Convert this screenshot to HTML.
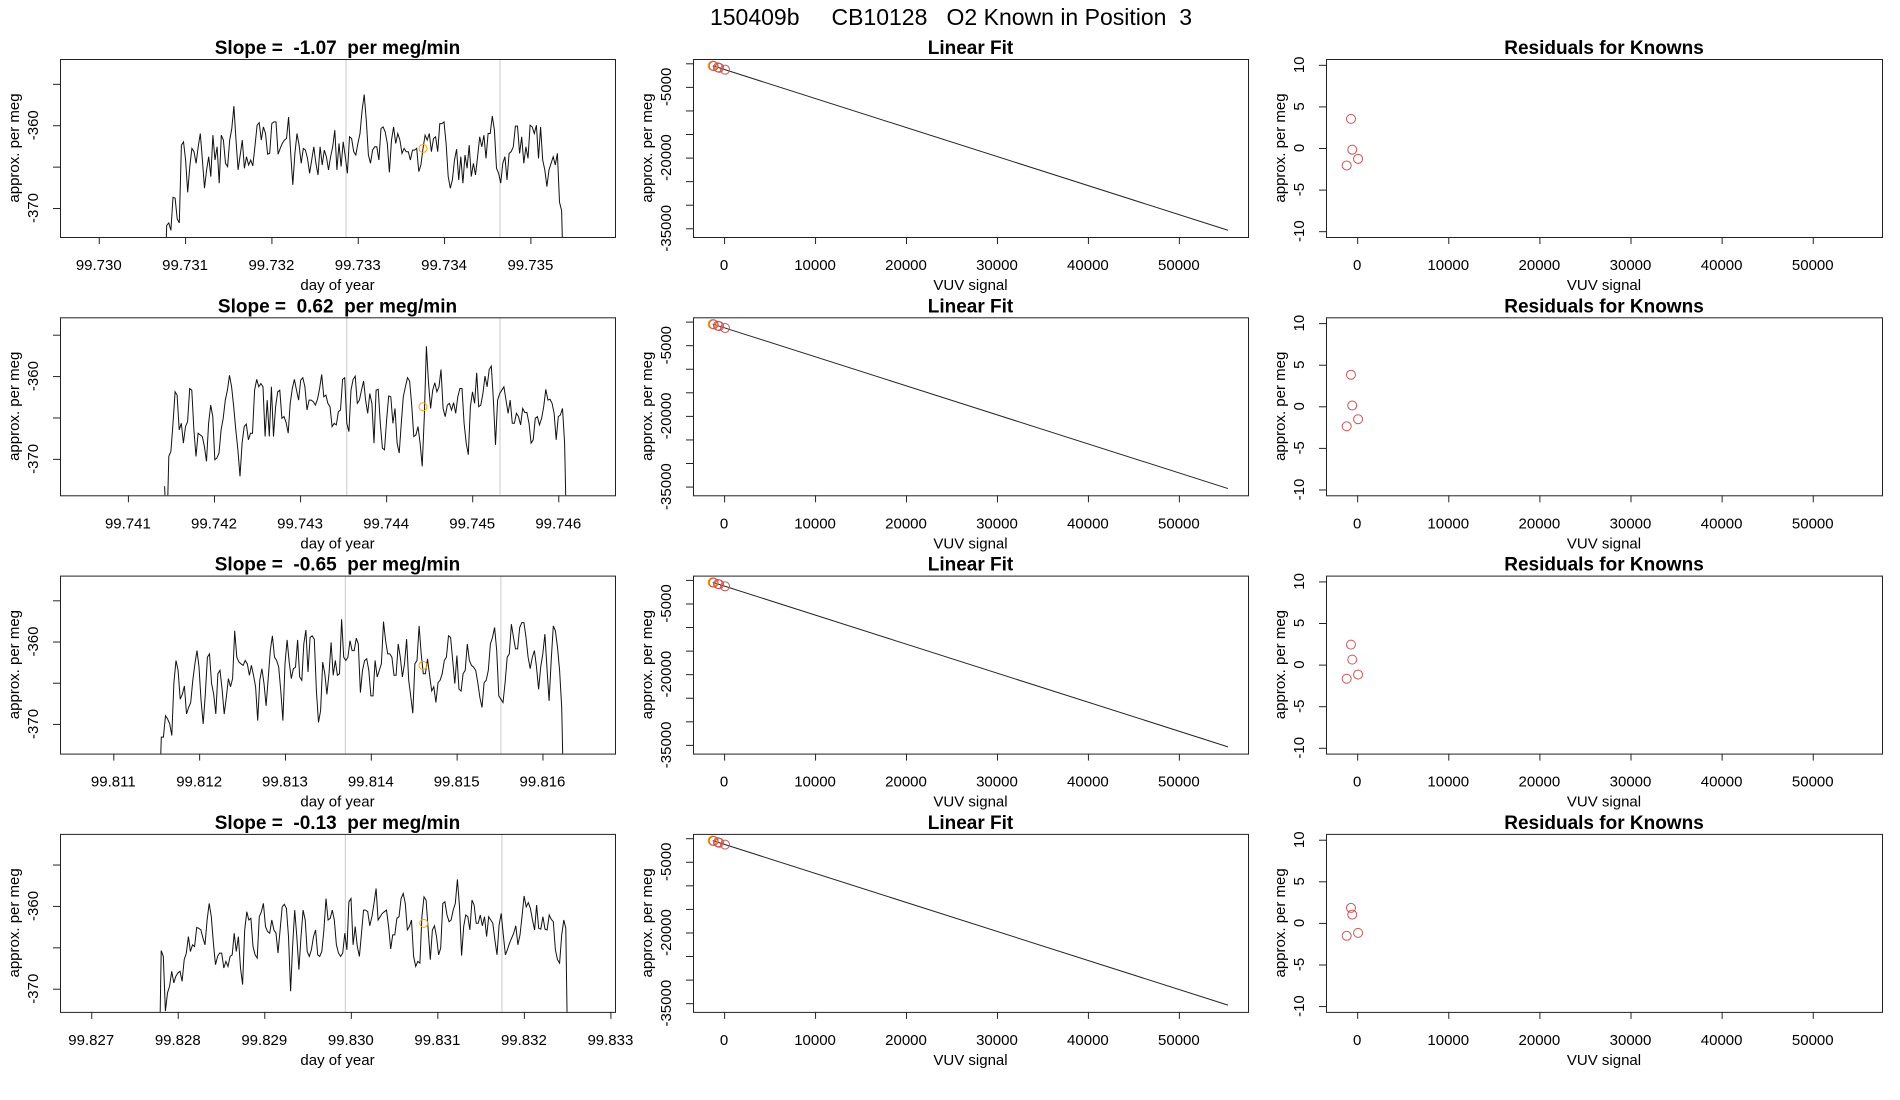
<!DOCTYPE html>
<html><head><meta charset="utf-8"><title>150409b CB10128 O2 Known in Position 3</title>
<style>
html,body{margin:0;padding:0;background:#fff;}
svg{display:block;font-family:"Liberation Sans",Arial,sans-serif;}
</style></head>
<body>
<svg id="chart" width="1900" height="1100" viewBox="0 0 1900 1100" xmlns="http://www.w3.org/2000/svg">
<rect x="0" y="0" width="1900" height="1100" fill="#fff"/>
<text x="951" y="25" font-size="23" text-anchor="middle" style="white-space:pre" xml:space="preserve">150409b     CB10128   O2 Known in Position  3</text>
</svg>
<script>
// ---- data ----
const slopeLabels = ["-1.07", "0.62", "-0.65", "-0.13"];
const seriesStart = [99.730763, 99.741426, 99.811535, 99.827785];
const seriesEnd = [99.735386, 99.746098, 99.816248, 99.832509];
const xDomainMin = [99.729551, 99.740211, 99.810379, 99.826639];
const xDomainMax = [99.735980, 99.746659, 99.816845, 99.833053];
const yDomainMin = [-373.5, -374.4, -373.6, -372.8];
const yDomainMax = [-352.0, -352.9, -352.0, -351.3];
const xTickStart = [99.730, 99.741, 99.811, 99.827];
const xTickCount = [6, 6, 6, 7];
const yTicksTS = [-355, -360, -365, -370];
const yTickLabelsTS = ["", "-360", "", "-370"];
const greyLineA = [99.732864, 99.743542, 99.813704, 99.829937];
const greyLineB = [99.734648, 99.745323, 99.815515, 99.831746];
const orangeT = [99.733756, 99.744428, 99.814608, 99.830843];
const orangeV = [-362.8, -363.7, -362.9, -362.1];

const row1Values = [-380,-372.1,-371.8,-372.7,-368.7,-368.8,-371.3,-371.8,-362.4,-362.0,-364.2,-368.1,-365.0,-362.8,-363.2,-364.6,-362.6,-361.0,-364.2,-367.6,-365.4,-363.8,-366.2,-361.2,-364.2,-362.6,-367.0,-361.2,-361.8,-364.6,-365.0,-361.8,-360.4,-357.7,-361.8,-365.4,-363.6,-361.8,-365.2,-363.8,-364.8,-364.2,-364.9,-362.6,-360.0,-359.7,-361.8,-360.2,-361.0,-363.5,-363.4,-359.8,-359.6,-359.6,-363.5,-362.8,-362.2,-361.8,-361.6,-359.0,-363.4,-367.2,-363.4,-361.0,-362.4,-364.6,-362.8,-363.0,-364.0,-365.8,-364.2,-362.6,-364.6,-366.0,-362.6,-364.8,-363.0,-363.8,-365.4,-363.8,-362.6,-360.6,-365.4,-362.2,-365.0,-362.0,-363.8,-365.8,-361.4,-361.6,-363.2,-363.6,-362.2,-361.0,-358.2,-356.3,-359.4,-363.6,-364.6,-363.0,-362.6,-362.6,-364.2,-360.4,-360.2,-360.8,-362.2,-365.7,-361.8,-360.2,-362.2,-361.0,-361.8,-363.4,-362.8,-363.2,-363.2,-364.2,-363.0,-363.0,-362.8,-365.6,-364.8,-362.8,-361.2,-361.8,-361.0,-363.2,-361.6,-361.4,-363.2,-359.8,-359.8,-359.6,-362.2,-366.2,-367.6,-366.6,-364.2,-362.9,-366.6,-363.8,-367.0,-363.6,-365.2,-362.4,-366.2,-364.6,-366.0,-363.8,-361.4,-362.6,-361.2,-364.0,-361.0,-361.0,-358.9,-360.6,-365.2,-365.8,-367.0,-364.6,-363.8,-366.6,-363.4,-363.2,-362.6,-360.1,-360.1,-363.4,-361.4,-364.6,-362.6,-364.0,-360.0,-360.2,-361.0,-360.0,-364.0,-360.2,-364.2,-365.4,-367.4,-365.4,-364.6,-363.8,-364.8,-363.4,-369.3,-370.3,-380];
const row2Values = [-373.3,-380,-369.7,-369.1,-365.7,-361.9,-362.3,-366.5,-365.7,-368.1,-366.1,-365.5,-361.5,-361.7,-366.5,-369.7,-366.9,-367.1,-367.3,-368.5,-370.3,-365.7,-363.5,-364.9,-370.1,-369.9,-369.3,-366.5,-365.1,-362.9,-361.7,-359.9,-361.3,-363.7,-366.5,-368.9,-372.1,-368.1,-366.1,-365.8,-367.7,-366.9,-366.9,-361.7,-360.4,-361.3,-360.9,-361.3,-367.3,-362.9,-367.3,-361.3,-367.3,-363.7,-361.9,-361.7,-365.1,-364.9,-365.6,-366.9,-363.3,-361.5,-360.4,-361.7,-362.9,-360.5,-360.2,-361.3,-364.1,-362.9,-362.9,-363.1,-363.5,-362.8,-361.5,-359.8,-362.5,-362.3,-363.3,-363.7,-366.1,-365.7,-365.9,-364.3,-364.1,-360.4,-360.2,-365.7,-366.7,-361.7,-360.4,-360.0,-363.3,-362.9,-361.7,-360.6,-362.9,-364.5,-362.1,-363.3,-368.1,-361.7,-361.6,-365.7,-368.7,-368.9,-365.3,-362.4,-362.5,-365.7,-363.9,-368.1,-369.3,-365.7,-362.5,-361.3,-360.2,-360.6,-363.5,-367.3,-367.1,-366.1,-368.1,-370.9,-364.9,-356.4,-360.8,-363.9,-361.7,-360.8,-361.9,-361.3,-359.2,-363.9,-364.9,-363.5,-363.3,-364.1,-363.2,-364.5,-362.5,-361.5,-361.5,-365.7,-368.1,-369.5,-363.7,-361.9,-363.3,-359.6,-363.7,-363.5,-362.1,-360.0,-361.3,-359.2,-358.8,-362.9,-368.3,-362.9,-362.1,-361.7,-361.3,-362.9,-364.5,-362.9,-365.7,-365.7,-364.5,-364.9,-365.9,-363.9,-364.4,-364.4,-365.7,-368.1,-367.7,-365.1,-364.9,-365.9,-365.1,-363.7,-361.6,-362.9,-362.8,-363.3,-364.5,-367.7,-364.9,-364.7,-363.9,-368.1,-380];
const row3Values = [-380,-371.6,-371.6,-369.0,-369.4,-370.0,-371.4,-365.0,-362.3,-363.5,-367.0,-366.4,-365.4,-368.8,-368.0,-367.4,-364.7,-362.7,-361.1,-363.1,-367.2,-370.0,-366.4,-361.9,-361.5,-365.1,-366.4,-368.8,-363.9,-363.5,-365.8,-368.8,-366.8,-364.5,-365.5,-364.5,-358.7,-361.9,-362.5,-362.7,-362.9,-362.3,-362.7,-364.1,-362.9,-364.1,-365.5,-369.6,-364.7,-363.3,-365.1,-367.8,-364.5,-361.1,-359.3,-361.9,-362.3,-363.1,-366.0,-369.6,-362.7,-359.8,-362.5,-364.5,-363.3,-363.1,-359.8,-364.3,-364.7,-360.3,-358.6,-363.7,-359.5,-359.3,-359.7,-366.0,-369.8,-368.4,-362.5,-363.9,-366.4,-363.9,-360.1,-364.1,-362.3,-364.1,-363.9,-357.3,-361.9,-362.3,-361.9,-359.9,-361.1,-361.1,-359.6,-360.3,-366.2,-363.5,-362.3,-362.1,-363.5,-366.6,-366.6,-362.3,-364.3,-363.5,-362.7,-357.6,-359.9,-361.5,-361.5,-361.9,-364.1,-364.1,-360.3,-361.9,-364.3,-362.7,-359.7,-364.7,-366.6,-368.7,-362.7,-362.3,-358.1,-361.5,-363.9,-363.9,-362.1,-364.1,-366.0,-365.5,-367.4,-365.0,-364.7,-363.9,-362.3,-361.9,-359.3,-359.5,-362.3,-365.1,-361.7,-365.8,-366.0,-363.9,-363.5,-360.3,-362.3,-362.9,-363.1,-363.5,-365.0,-366.8,-368.0,-365.0,-364.7,-363.5,-360.3,-359.5,-358.3,-361.1,-366.6,-367.0,-367.4,-365.0,-361.9,-361.5,-357.9,-359.5,-360.9,-360.9,-358.3,-357.7,-357.7,-359.5,-361.9,-363.3,-361.9,-361.1,-363.1,-365.8,-363.1,-361.5,-359.1,-363.3,-367.2,-362.3,-358.1,-358.7,-360.7,-363.5,-368.0,-380];
const row4Values = [-380,-365.4,-366.1,-372.7,-370.5,-369.7,-367.9,-369.3,-368.5,-368.1,-367.9,-369.1,-366.5,-365.7,-363.7,-365.5,-364.7,-364.9,-362.6,-362.7,-362.9,-363.9,-364.7,-361.7,-359.7,-361.3,-364.5,-367.1,-366.1,-365.7,-365.7,-367.5,-366.7,-367.3,-366.1,-365.9,-363.3,-365.5,-363.7,-367.5,-369.5,-362.9,-360.7,-361.7,-361.5,-364.9,-365.9,-366.3,-361.3,-360.7,-359.7,-362.5,-363.1,-363.3,-361.7,-362.9,-363.3,-365.7,-362.9,-360.1,-359.8,-360.3,-363.7,-370.3,-364.9,-360.5,-363.7,-367.7,-363.7,-360.5,-361.7,-365.5,-366.1,-365.3,-363.7,-362.9,-365.9,-366.1,-365.5,-362.9,-359.1,-361.7,-361.5,-360.5,-361.7,-364.7,-365.7,-366.1,-365.7,-363.3,-365.3,-359.5,-359.1,-364.7,-362.5,-364.9,-366.1,-363.3,-360.5,-360.5,-360.7,-362.4,-361.3,-359.7,-357.9,-361.7,-361.3,-360.9,-360.7,-360.5,-362.5,-365.2,-363.5,-363.5,-361.5,-361.3,-359.1,-358.5,-359.7,-362.9,-362.5,-361.7,-366.1,-367.3,-366.7,-366.9,-361.3,-358.9,-359.3,-362.9,-366.5,-362.9,-362.4,-363.7,-365.9,-365.1,-359.7,-359.5,-361.1,-361.9,-361.7,-360.5,-359.7,-356.8,-360.1,-366.0,-362.5,-361.1,-361.3,-362.9,-359.3,-359.9,-362.1,-362.1,-361.1,-362.4,-361.3,-363.7,-361.3,-361.7,-362.1,-364.1,-365.9,-362.3,-360.9,-363.5,-365.9,-365.3,-364.5,-363.9,-363.3,-362.4,-364.7,-363.5,-361.3,-358.8,-360.1,-359.6,-360.3,-361.7,-362.9,-359.9,-362.7,-362.8,-361.3,-362.8,-362.9,-361.1,-361.6,-361.9,-365.3,-366.5,-366.9,-363.5,-361.7,-362.7,-380];
const seriesValues = [row1Values, row2Values, row3Values, row4Values];

// linear fit / residuals
const vuvTicks = [0, 10000, 20000, 30000, 40000, 50000];
const fitYTicks = [0, -5000, -10000, -15000, -20000, -25000, -30000, -35000];
const fitYTickLabels = ["", "-5000", "", "", "-20000", "", "", "-35000"];
const residTicks = [10, 5, 0, -5, -10];
const knownX = [-1150, -680, -540, 100];
const unknownX = [-1250];
const fitIntercept = -1290;
const fitSlope = -0.616;
const fitLineX = [-1250, 55400];
const residRow1 = [-2.1, 3.5, -0.2, -1.3];
const residRow2 = [-2.4, 3.8, 0.1, -1.55];
const residRow3 = [-1.7, 2.4, 0.6, -1.2];
const residRow4 = [-1.55, 1.8, 1.0, -1.2];
const residRows = [residRow1, residRow2, residRow3, residRow4];

// ---- layout ----
const NS = "http://www.w3.org/2000/svg";
const svg = document.getElementById("chart");
const ROW_TOP = 59, ROW_STEP = 258.3, PH = 178;
const COL = [[60, 615], [693, 1248], [1326, 1882]];
const VUV_MIN = -3420, VUV_MAX = 57600;
const FIT_MIN = -36850, FIT_MAX = 913;
const RES_MIN = -10.7, RES_MAX = 10.7;

function mk(tag, attrs, parent) {
  const e = document.createElementNS(NS, tag);
  for (const k in attrs) e.setAttribute(k, attrs[k]);
  (parent || svg).appendChild(e);
  return e;
}
function lin(d0, d1, r0, r1) { return v => r0 + (v - d0) * (r1 - r0) / (d1 - d0); }

function frame(g, x0, x1, top, name) {
  const r = mk("rect", {x: x0 + 0.5, y: top + 0.5, width: x1 - x0, height: PH, fill: "none", stroke: "#222", "stroke-width": 1}, g);
  
  
}
function xTick(g, x, bottom, label) {
  mk("line", {x1: x + 0.5, x2: x + 0.5, y1: bottom, y2: bottom + 7, stroke: "#222"}, g);
  const t = mk("text", {x: x, y: bottom + 33, "font-size": 15, "text-anchor": "middle"}, g);
  t.textContent = label;
  
  
}
function yTick(g, y, left, label) {
  mk("line", {x1: left - 7, x2: left, y1: y + 0.5, y2: y + 0.5, stroke: "#222"}, g);
  if (label) {
    const t = mk("text", {x: 0, y: 0, "font-size": 15, "text-anchor": "middle", transform: `translate(${left - 22},${y}) rotate(-90)`}, g);
    t.textContent = label;
    
    
  }
}
function labels(g, x0, x1, top, title, xlab) {
  const cx = (x0 + x1) / 2, bottom = top + PH;
  const t = mk("text", {x: cx, y: top - 5, "font-size": 19, "font-weight": "bold", "text-anchor": "middle", style: "white-space:pre"}, g);
  t.textContent = title;
  
  
  const xl = mk("text", {x: cx, y: bottom + 53, "font-size": 15, "text-anchor": "middle"}, g);
  xl.textContent = xlab;
  
  
  const yl = mk("text", {x: 0, y: 0, "font-size": 15, "text-anchor": "middle", transform: `translate(${x0 - 41},${top + PH / 2}) rotate(-90)`}, g);
  yl.textContent = "approx. per meg";
  
  
}

const defs = mk("defs", {});
for (let r = 0; r < 4; r++) {
  const top = ROW_TOP + r * ROW_STEP, bottom = top + PH;

  // ---- time series ----
  const [a0, a1] = COL[0];
  const g1 = mk("g", {});
  
  
  const xs = lin(xDomainMin[r], xDomainMax[r], a0, a1);
  const ys = lin(yDomainMin[r], yDomainMax[r], bottom, top);
  const cp = mk("clipPath", {id: "clip" + r}, defs);
  mk("rect", {x: a0, y: top, width: a1 - a0, height: PH}, cp);
  [greyLineA[r], greyLineB[r]].forEach(t => {
    const l = mk("line", {x1: xs(t), x2: xs(t), y1: top, y2: bottom, stroke: "#d3d3d3", "stroke-width": 1.2}, g1);
    
    
  });
  const vals = seriesValues[r], n = vals.length;
  let d = "";
  vals.forEach((v, i) => {
    const t = seriesStart[r] + i * (seriesEnd[r] - seriesStart[r]) / (n - 1);
    d += (i ? "L" : "M") + xs(t).toFixed(1) + "," + ys(v).toFixed(1);
  });
  const p = mk("path", {d: d, fill: "none", stroke: "#111", "stroke-width": 1, "clip-path": `url(#clip${r})`}, g1);
  
  
  const oc = mk("circle", {cx: xs(orangeT[r]), cy: ys(orangeV[r]), r: 4, fill: "none", stroke: "#ffa500", "stroke-width": 1}, g1);
  
  
  frame(g1, a0, a1, top, 'plot-frame');
  for (let k = 0; k < xTickCount[r]; k++) {
    const tv = xTickStart[r] + k * 0.001;
    xTick(g1, xs(tv), bottom, tv.toFixed(3));
  }
  yTicksTS.forEach((v, k) => yTick(g1, ys(v), a0, yTickLabelsTS[k]));
  labels(g1, a0, a1, top, "Slope =  " + slopeLabels[r] + "  per meg/min", "day of year");

  // ---- linear fit ----
  const [b0, b1] = COL[1];
  const g2 = mk("g", {});
  
  
  const fx = lin(VUV_MIN, VUV_MAX, b0, b1);
  const fy = lin(FIT_MIN, FIT_MAX, bottom, top);
  const fl = mk("line", {x1: fx(fitLineX[0]), y1: fy(fitIntercept + fitSlope * fitLineX[0]), x2: fx(fitLineX[1]), y2: fy(fitIntercept + fitSlope * fitLineX[1]), stroke: "#222", "stroke-width": 1}, g2);
  
  
  unknownX.forEach(x => {
    const c = mk("circle", {cx: fx(x), cy: fy(fitIntercept + fitSlope * x), r: 4.5, fill: "none", stroke: "#ff9a00", "stroke-width": 1.2}, g2);
    
    
  });
  knownX.forEach((x, k) => {
    const c = mk("circle", {cx: fx(x), cy: fy(fitIntercept + fitSlope * x + residRows[r][k]), r: 4.5, fill: "none", stroke: "#cd5555", "stroke-width": 1}, g2);
    
    
  });
  frame(g2, b0, b1, top, 'plot-frame');
  vuvTicks.forEach(v => xTick(g2, fx(v), bottom, String(v)));
  fitYTicks.forEach((v, k) => yTick(g2, fy(v), b0, fitYTickLabels[k]));
  labels(g2, b0, b1, top, "Linear Fit", "VUV signal");

  // ---- residuals ----
  const [c0, c1] = COL[2];
  const g3 = mk("g", {});
  
  
  const rx = lin(VUV_MIN, VUV_MAX, c0, c1);
  const ry = lin(RES_MIN, RES_MAX, bottom, top);
  knownX.forEach((x, k) => {
    const c = mk("circle", {cx: rx(x), cy: ry(residRows[r][k]), r: 4.5, fill: "none", stroke: "#cd5555", "stroke-width": 1}, g3);
    
    
  });
  frame(g3, c0, c1, top, 'plot-frame');
  vuvTicks.forEach(v => xTick(g3, rx(v), bottom, String(v)));
  residTicks.forEach(v => yTick(g3, ry(v), c0, String(v)));
  labels(g3, c0, c1, top, "Residuals for Knowns", "VUV signal");
}
</script>
</body></html>
